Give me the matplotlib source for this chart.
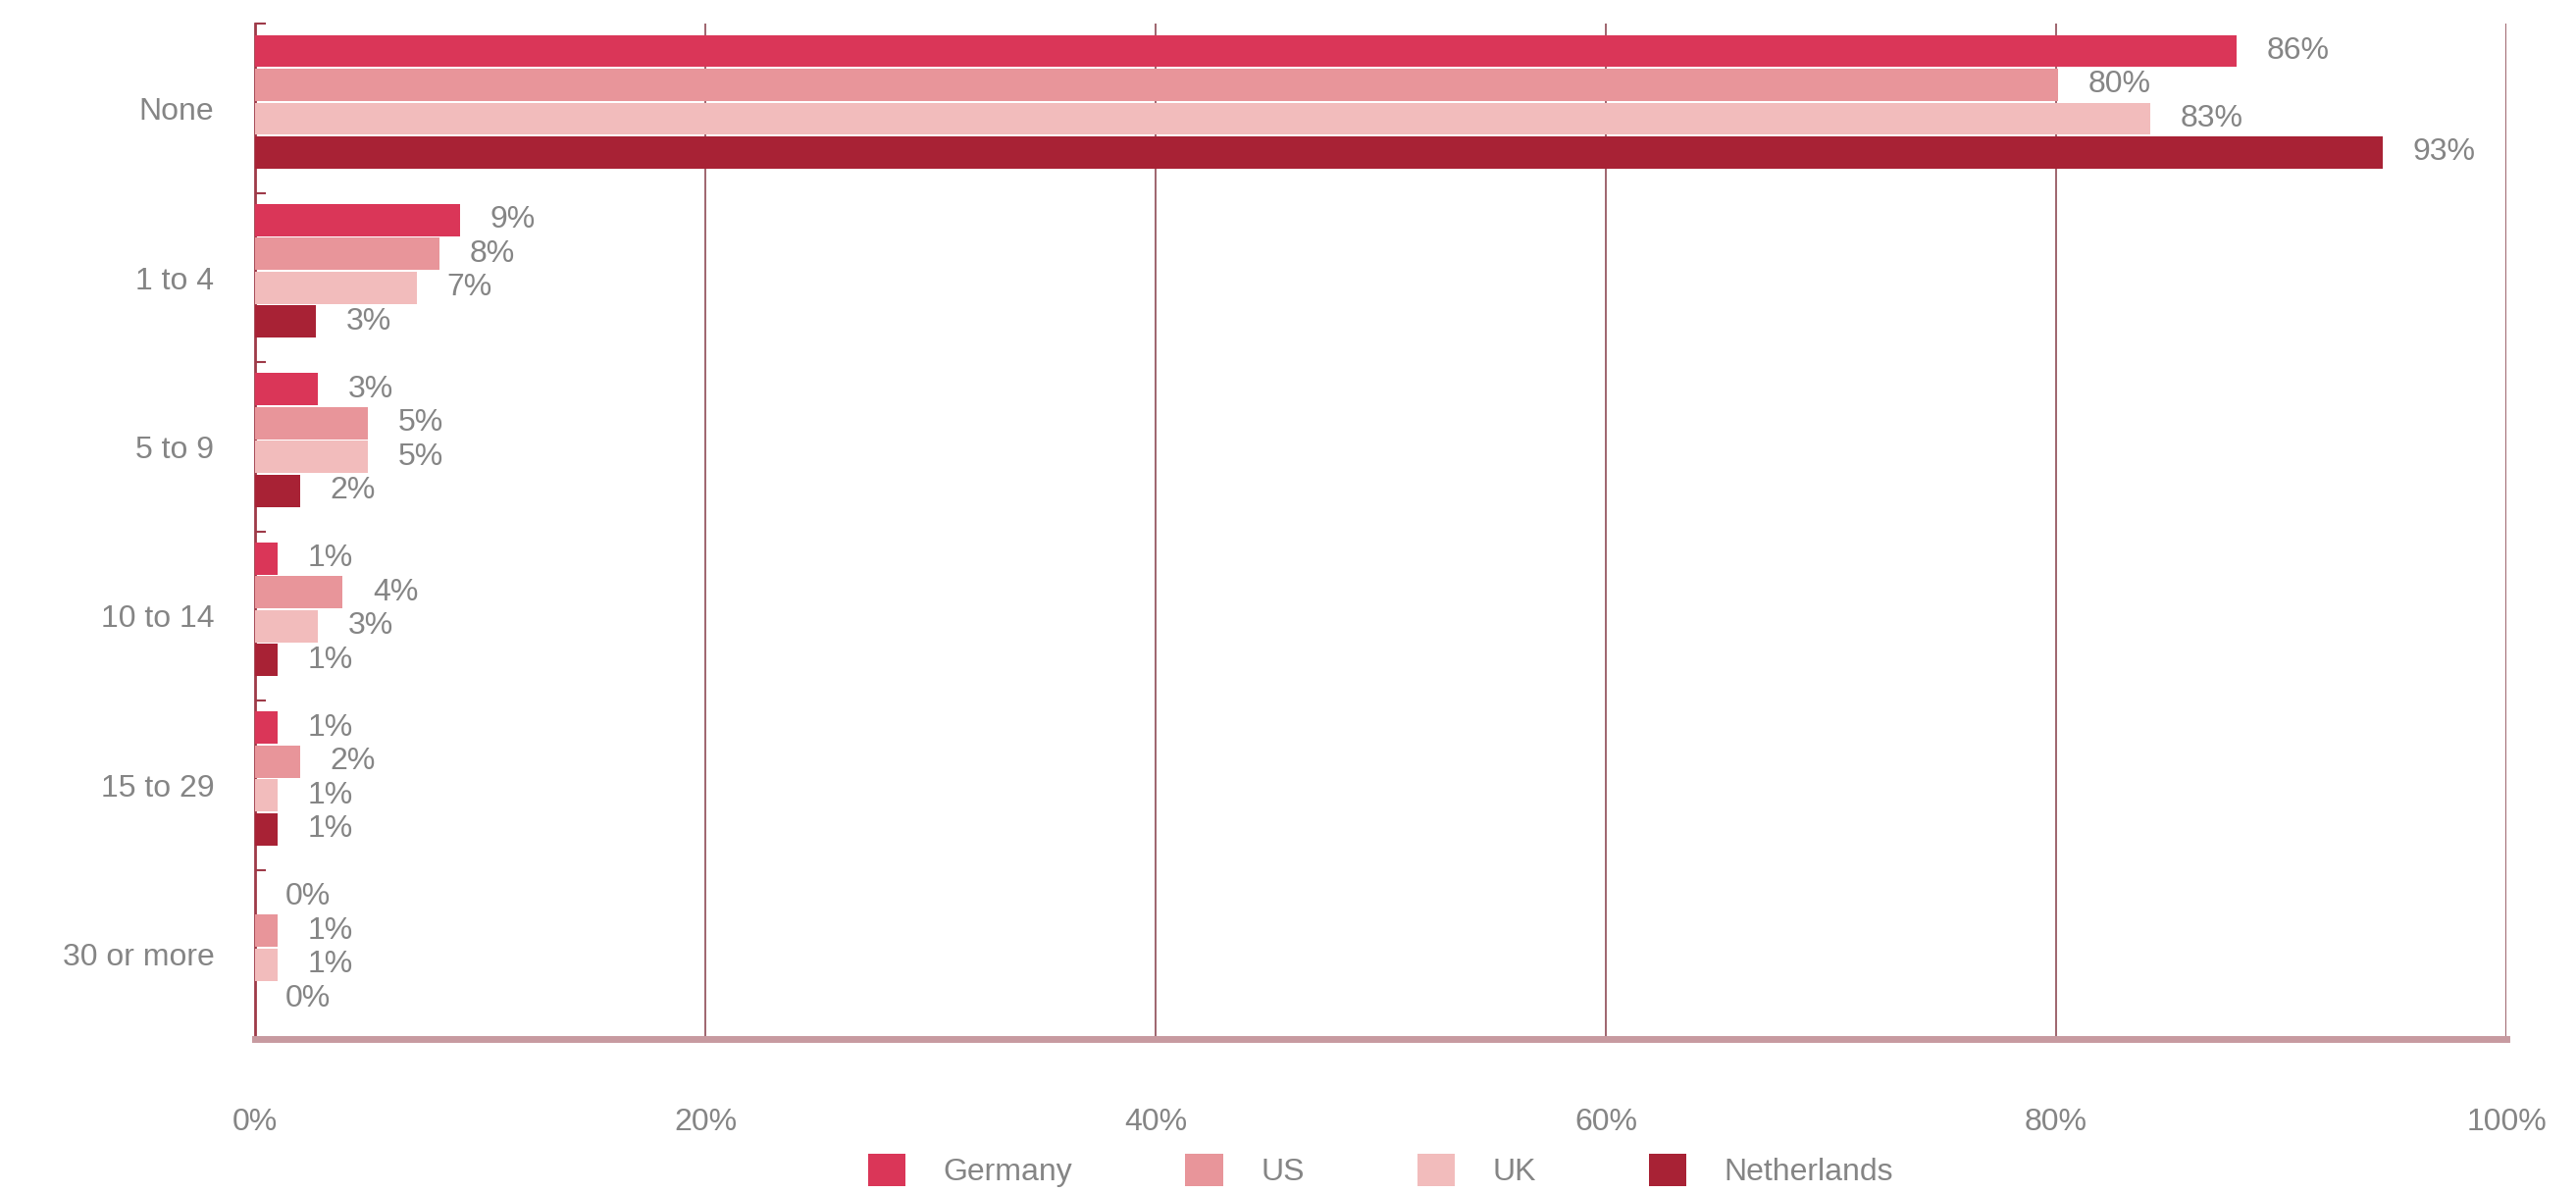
import numpy as np
import matplotlib
matplotlib.use("Agg")
import matplotlib.pyplot as plt
from matplotlib.ticker import FixedLocator, PercentFormatter

plt.rcParams["font.family"] = ["Liberation Sans", "DejaVu Sans"]

categories = ["None", "1 to 4", "5 to 9", "10 to 14", "15 to 29", "30 or more"]
series = ["Germany", "US", "UK", "Netherlands"]

# bar lengths as drawn in the picture
germany = [88.0, 9.1, 2.8, 1.0, 1.0, 0.0]
us = [80.1, 8.2, 5.0, 3.9, 2.0, 1.0]
uk = [84.2, 7.2, 5.0, 2.8, 1.0, 1.0]
netherlands = [94.5, 2.7, 2.0, 1.0, 1.0, 0.0]

# printed labels
germany_lbl = ["86%", "9%", "3%", "1%", "1%", "0%"]
us_lbl = ["80%", "8%", "5%", "4%", "2%", "1%"]
uk_lbl = ["83%", "7%", "5%", "3%", "1%", "1%"]
netherlands_lbl = ["93%", "3%", "2%", "1%", "1%", "0%"]

colors = ["#DA3658", "#E8959A", "#F2BCBC", "#A82235"]
text_grey = "#858585"
line_red = "#9E3A48"

fig = plt.figure(figsize=(26.26, 12.16), dpi=100)
ax = fig.add_axes([0.099, 0.129, 0.874, 0.851])

y = np.arange(len(categories))
h = 0.2
values = [germany, us, uk, netherlands]
labels = [germany_lbl, us_lbl, uk_lbl, netherlands_lbl]
for i, (vals, lbls) in enumerate(zip(values, labels)):
    pos = y - 0.34 + i * h
    bars = ax.barh(pos, vals, height=h * 0.95, color=colors[i], label=series[i], zorder=3)
    for b, t in zip(bars, lbls):
        ax.annotate(t, (b.get_width(), b.get_y() + b.get_height() / 2),
                    xytext=(22, 0), textcoords="offset points",
                    va="center", ha="left", fontsize=23, color=text_grey)

ax.set_xlim(0, 100)
ax.set_ylim(len(categories) - 0.5, -0.5)
ax.set_xticks([0, 20, 40, 60, 80, 100])
ax.xaxis.set_major_formatter(PercentFormatter(decimals=0))
ax.set_yticks(y)
ax.set_yticklabels(categories)
ax.yaxis.set_minor_locator(FixedLocator(np.arange(-0.5, len(categories), 1.0)))

ax.tick_params(axis="x", length=0, pad=50, labelsize=23, labelcolor=text_grey)
ax.tick_params(axis="y", which="major", length=0, pad=30, labelsize=23, labelcolor=text_grey)
ax.tick_params(axis="y", which="minor", direction="in", length=8, width=1.5, color=line_red)

ax.grid(axis="x", color="#8E4A55", linewidth=1.2, zorder=1)
for s in ["top", "right"]:
    ax.spines[s].set_visible(False)
ax.spines["left"].set_color(line_red)
ax.spines["left"].set_linewidth(2)
ax.spines["bottom"].set_color("#C79AA0")
ax.spines["bottom"].set_linewidth(5)
ax.spines["bottom"].set_zorder(4)

fig.legend(loc="center", bbox_to_anchor=(0.536, 0.019), ncol=4, frameon=False,
           fontsize=23, labelcolor=text_grey, handlelength=1.2, handleheight=1.2,
           columnspacing=3.6, handletextpad=1.2)

fig.savefig("out.png", dpi=100, facecolor="white")
